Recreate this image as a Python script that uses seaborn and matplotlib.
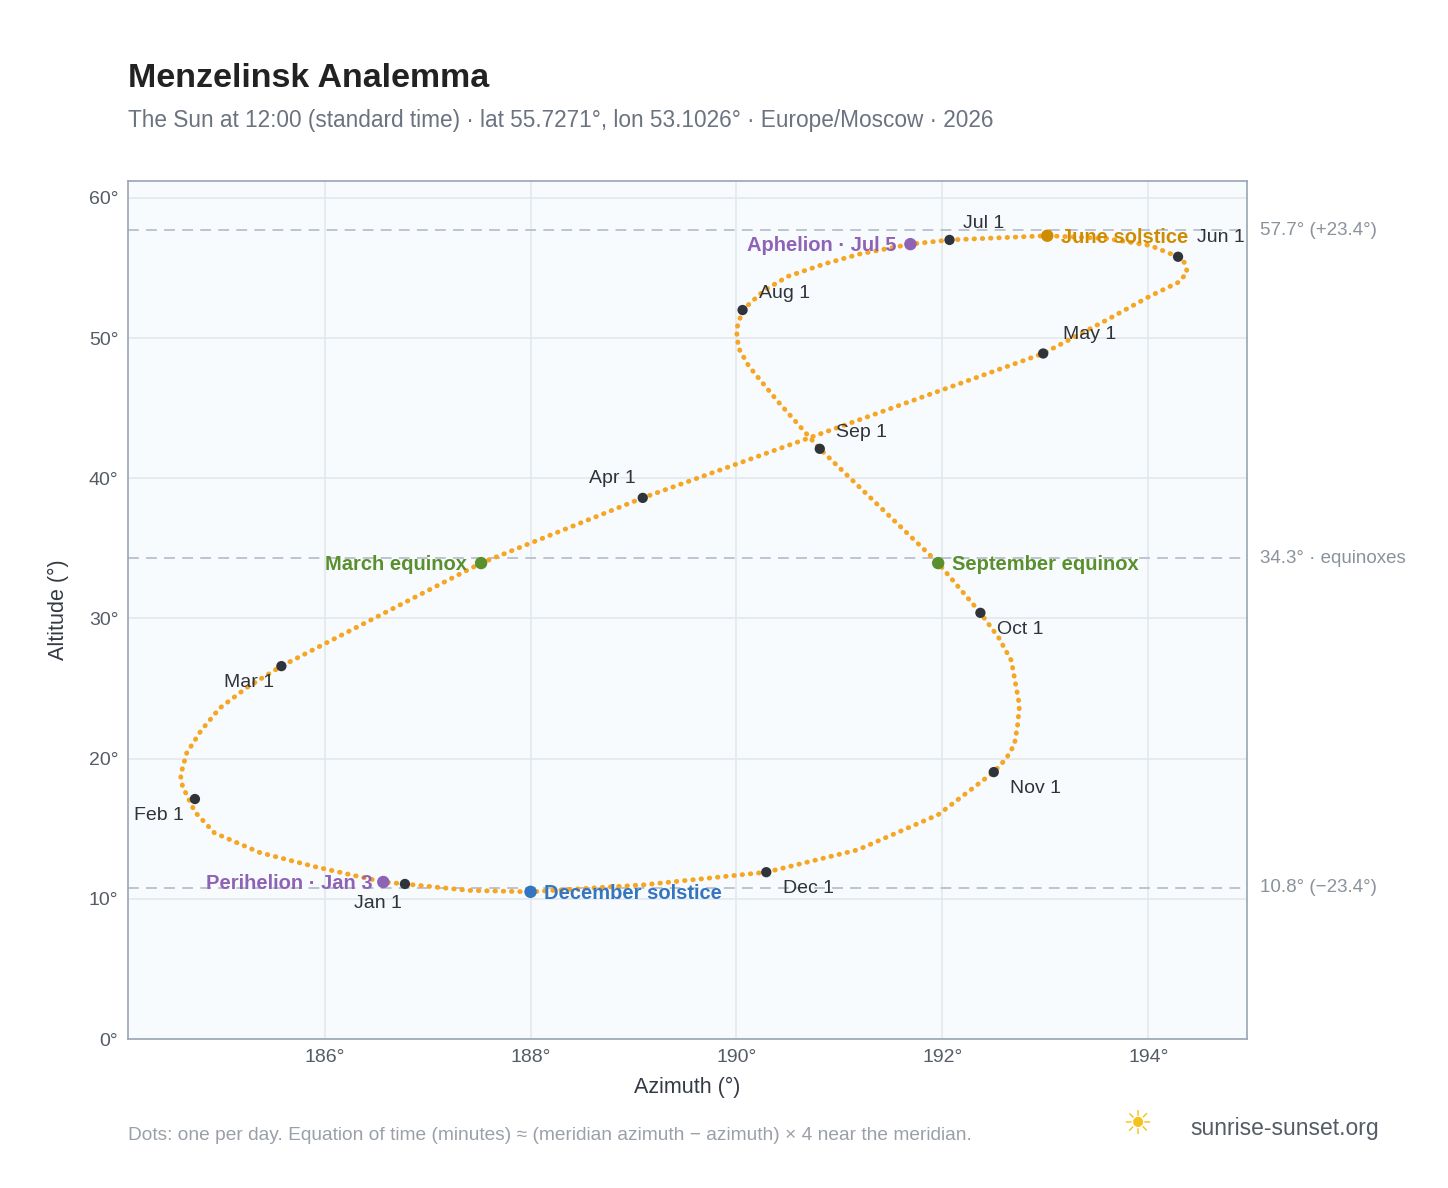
import numpy as np
import pandas as pd
import matplotlib
matplotlib.use("Agg")
import matplotlib.pyplot as plt
import seaborn as sns

# path of the sun (azimuth, altitude), Jan 1 -> Jan 1
path_az = [186.78, 186.57, 185.90, 185.37, 184.93, 184.74, 184.62, 184.60, 184.66, 184.80,
           184.98, 185.25, 185.58,
           187.52, 189.09, 192.98, 193.60, 194.02, 194.30, 194.38, 194.35, 194.29, 194.02, 193.60,
           193.02, 192.07, 191.69, 191.20, 190.86, 190.50, 190.27, 190.06, 190.00, 190.02, 190.12,
           190.40, 190.81, 191.96,
           192.37, 192.55, 192.67, 192.75, 192.73, 192.70, 192.62, 192.50, 191.96, 191.18, 190.29,
           189.10, 188.00, 187.40, 186.78]
path_alt = [11.06, 11.20, 12.3, 13.3, 14.7, 16.2, 17.12 + 0.9, 18.8, 20.4, 22.0,
            23.6, 25.1, 26.6,
            33.95, 38.6, 48.9, 51.3, 53.0, 54.0, 54.7, 55.4, 55.8, 56.6, 57.1,
            57.3, 57.0, 56.7, 56.0, 55.3, 54.4, 53.4, 52.0, 50.6, 49.3, 48.0,
            45.5, 42.1, 33.95,
            30.4, 28.6, 27.0, 23.8, 22.3, 21.0, 20.0, 19.04, 16.0, 13.5, 11.9,
            11.0, 10.5, 10.6, 11.06]

months = ["Jan 1", "Feb 1", "Mar 1", "Apr 1", "May 1", "Jun 1",
          "Jul 1", "Aug 1", "Sep 1", "Oct 1", "Nov 1", "Dec 1"]
month_az = [186.78, 184.74, 185.58, 189.09, 192.98, 194.29, 192.07, 190.06, 190.81, 192.37, 192.50, 190.29]
month_alt = [11.06, 17.12, 26.6, 38.6, 48.9, 55.8, 57.0, 52.0, 42.1, 30.4, 19.04, 11.9]
month_off = [(-2, -14), (-8, -12), (-5, -12), (-5, 14), (14, 14), (14, 14),
             (10, 12), (12, 12), (12, 12), (12, -12), (12, -12), (12, -12)]
month_ha = ["right", "right", "right", "right", "left", "left",
            "left", "left", "left", "left", "left", "left"]

events = ["Perihelion · Jan 3", "March equinox", "June solstice",
          "Aphelion · Jul 5", "September equinox", "December solstice"]
event_az = [186.57, 187.52, 193.02, 191.69, 191.96, 188.0]
event_alt = [11.2, 33.95, 57.3, 56.7, 33.95, 10.5]
event_col = ["#8e63b5", "#5a8f2e", "#d08c00", "#8e63b5", "#5a8f2e", "#3475c0"]
event_ha = ["right", "right", "left", "right", "left", "left"]
event_dx = [-8, -10, 10, -10, 10, 10]

ref_alt = [57.7, 34.3, 10.8]
ref_txt = ["57.7° (+23.4°)", "34.3° · equinoxes", "10.8° (−23.4°)"]

sns.set_style("whitegrid")
plt.rcParams["font.family"] = ["Liberation Sans", "DejaVu Sans"]

fig = plt.figure(figsize=(14.48, 11.88), dpi=100)
ax = fig.add_axes([0.0884, 0.1254, 0.7728, 0.7222])
ax.set_facecolor("#f8fbfe")
for s in ax.spines.values():
    s.set_color("#9aa5b4")
    s.set_linewidth(1.2)
ax.grid(color="#e3e8ee", linewidth=1.2)

df = pd.DataFrame({"az": path_az, "alt": path_alt})
sns.lineplot(data=df, x="az", y="alt", sort=False, estimator=None, ax=ax, color="#f5a623",
             linewidth=3.5, linestyle=(0, (0.1, 1.6)), dash_capstyle="round", zorder=2)

for a, t in zip(ref_alt, ref_txt):
    ax.axhline(a, color="#b8c0cc", linestyle=(0, (6, 4)), linewidth=1.3, zorder=1)
    ax.annotate(t, xy=(1, a), xycoords=("axes fraction", "data"), xytext=(9, 0),
                textcoords="offset points", va="center", ha="left", fontsize=13.5,
                color="#8a929c", annotation_clip=False)

sns.scatterplot(x=month_az, y=month_alt, color="#2f343b", s=55, ax=ax, zorder=4, edgecolor="none")
for n, x, y, o, h in zip(months, month_az, month_alt, month_off, month_ha):
    ax.annotate(n, (x, y), xytext=o, textcoords="offset points", fontsize=14,
                color="#2f343b", ha=h, va="center")

ax.scatter(event_az, event_alt, c=event_col, s=80, zorder=5, edgecolors="none")
for n, x, y, c, h, dx in zip(events, event_az, event_alt, event_col, event_ha, event_dx):
    ax.annotate(n, (x, y), xytext=(dx, -1), textcoords="offset points", fontsize=14.5,
                fontweight="bold", color=c, ha=h, va="center")

ax.set_xlim(184.09, 194.96)
ax.set_ylim(0, 61.2)
ax.set_xticks([186, 188, 190, 192, 194])
ax.set_xticklabels([f"{v}°" for v in [186, 188, 190, 192, 194]])
ax.set_yticks(range(0, 61, 10))
ax.set_yticklabels([f"{v}°" for v in range(0, 61, 10)])
ax.tick_params(labelsize=14, colors="#555c66")
ax.set_xlabel("Azimuth (°)", fontsize=15.5, color="#333a44", labelpad=8)
ax.set_ylabel("Altitude (°)", fontsize=15.5, color="#333a44", labelpad=14)

fig.text(0.0884, 0.927, "Menzelinsk Analemma", fontsize=24.5, fontweight="bold", color="#222222")
fig.text(0.0884, 0.893, "The Sun at 12:00 (standard time) · lat 55.7271°, lon 53.1026° · Europe/Moscow · 2026",
         fontsize=16.3, color="#6b7280")
fig.text(0.0884, 0.04, "Dots: one per day. Equation of time (minutes) ≈ (meridian azimuth − azimuth) × 4 near the meridian.",
         fontsize=13.8, color="#9aa0a8")
fig.text(0.822, 0.045, "sunrise-sunset.org", fontsize=16.5, color="#555c66")
fig.text(0.775, 0.045, "☀", fontsize=24, color="#f5c21b")

fig.savefig("out.png", dpi=100)
